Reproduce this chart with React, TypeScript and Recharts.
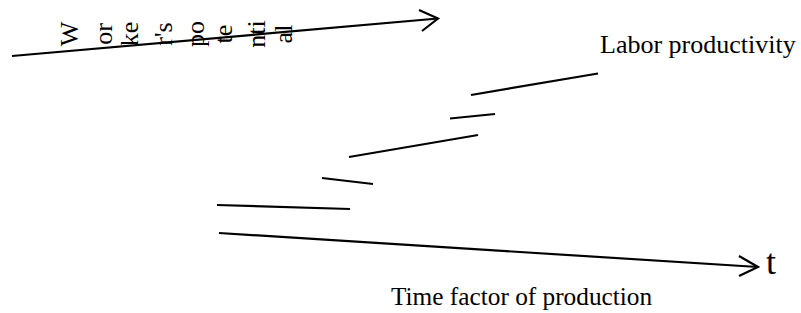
import { LineChart, Line, XAxis, YAxis, ReferenceDot } from "recharts";

// diagram coordinates: x 0..801 left to right, y 0..313 top to bottom
const potentialAxis = [
  { x: 12, y: 56 },
  { x: 438, y: 18.5 },
];
const potentialHead = [
  { x: 419, y: 10 },
  { x: 438, y: 18.5 },
  { x: 422, y: 31 },
];
const timeAxis = [
  { x: 219, y: 233 },
  { x: 758, y: 267 },
];
const timeHead = [
  { x: 739, y: 256 },
  { x: 758, y: 267 },
  { x: 739, y: 276 },
];

// productivity steps
const step1 = [
  { x: 217, y: 205 },
  { x: 350, y: 209 },
];
const step2 = [
  { x: 322, y: 178 },
  { x: 373, y: 184 },
];
const step3 = [
  { x: 349, y: 157 },
  { x: 478, y: 135 },
];
const step4 = [
  { x: 450, y: 118.5 },
  { x: 495, y: 114 },
];
const step5 = [
  { x: 471, y: 95 },
  { x: 598, y: 73.5 },
];

const segments = [potentialAxis, potentialHead, timeAxis, timeHead, step1, step2, step3, step4, step5];

// "Worker's potential" split into the vertical pieces seen on the picture
const potentialPieces = ["W", "or", "ke", "r's", "po", "te", "nti", "al"];
const potentialBaseX = [78, 112, 138, 172, 204, 232, 265, 292];

const labels = [
  { text: "Labor productivity", x: 600, y: 53, size: 26 },
  { text: "Time factor of production", x: 391, y: 305, size: 25.3 },
];

const font = "'Liberation Serif', 'Times New Roman', serif";

export default function App() {
  return (
    <div style={{ position: "absolute", left: 0, top: 0, background: "#fff" }}>
      <LineChart width={801} height={313} margin={{ top: 0, right: 0, bottom: 0, left: 0 }}>
        <XAxis type="number" dataKey="x" domain={[0, 801]} hide />
        <YAxis type="number" dataKey="y" domain={[0, 313]} reversed hide />
        {segments.map((seg, i) => (
          <Line
            key={i}
            data={seg}
            dataKey="y"
            type="linear"
            stroke="#000"
            strokeWidth={2.2}
            dot={false}
            activeDot={false}
            isAnimationActive={false}
          />
        ))}
        {potentialPieces.map((piece, i) => (
          <ReferenceDot
            key={piece}
            x={potentialBaseX[i]}
            y={34}
            r={0}
            shape={(p: any) => (
              <text
                x={p.cx}
                y={p.cy}
                transform={`rotate(-90 ${p.cx} ${p.cy})`}
                textAnchor="middle"
                fontFamily={font}
                fontSize={26}
                fill="#000"
              >
                {piece}
              </text>
            )}
          />
        ))}
        {labels.map((l) => (
          <ReferenceDot
            key={l.text}
            x={l.x}
            y={l.y}
            r={0}
            shape={(p: any) => (
              <text x={p.cx} y={p.cy} fontFamily={font} fontSize={l.size} fill="#000">
                {l.text}
              </text>
            )}
          />
        ))}
        <ReferenceDot
          x={766}
          y={274}
          r={0}
          shape={(p: any) => (
            <text x={p.cx} y={p.cy} fontFamily={font} fontSize={36} fill="#000">
              t
            </text>
          )}
        />
      </LineChart>
    </div>
  );
}
